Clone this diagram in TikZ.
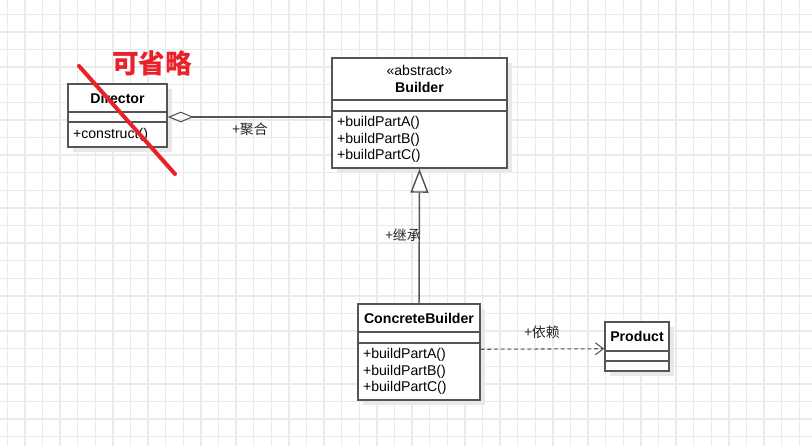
\documentclass[tikz,border=0pt]{standalone}
\usepackage{fontspec}
\setmainfont{Liberation Sans}
\newfontfamily\cjk{Noto Sans CJK SC}
\usepackage{pgf, tikz}
\usepackage{xcolor}
\usetikzlibrary{arrows.meta,shadows}

\definecolor{umlline}{HTML}{555555}
\definecolor{gridgray}{HTML}{EAEAEA}
\definecolor{markred}{HTML}{E8212A}

\begin{document}
\begin{tikzpicture}[
  x = 0.75pt, y = -0.75pt, % one unit per pixel
  >= stealth,
  semithick
]

\tikzstyle{part}=[
  draw = umlline,
  line width = 1.1pt,
  fill = white,
  inner sep = 0pt,
  drop shadow = {shadow xshift=4pt, shadow yshift=-4pt, fill=black!9, opacity=1},
  font = \fontsize{10.6}{12.4}\selectfont
]
\tikzstyle{ops}=[part, align=left, inner xsep=3.75pt]
\tikzstyle{lbl}=[font=\cjk\fontsize{10.4}{12}\selectfont, text=black!85]

\useasboundingbox[fill=white] (0,0) rectangle (812,446);

% background grid
\foreach \gx in {0,...,45}
  \draw[gridgray, line width=1pt] ({7.3+17.6*\gx},0) -- ({7.3+17.6*\gx},446);
\foreach \gy in {0,...,24}
  \draw[gridgray, line width=1pt] (0,{14.3+17.6*\gy}) -- (812,{14.3+17.6*\gy});

% Director
\node[part, minimum width=74.25pt, minimum height=21pt] (dirT) at (117.5,98) {\textbf{Director}};
\node[part, minimum width=74.25pt, minimum height=7.5pt] (dirM) at (117.5,117) {};
\node[ops, text width=66.75pt, minimum height=18.75pt] (dirO) at (117.5,134.5) {+construct()};

% Builder
\node[part, align=center, minimum width=131.25pt, minimum height=31.5pt] (bldT) at (419.5,79) {«abstract»\\\textbf{Builder}};
\node[part, minimum width=131.25pt, minimum height=8.25pt] (bldM) at (419.5,105.5) {};
\node[ops, text width=123.75pt, minimum height=42.75pt] (bldO) at (419.5,139.5) {+buildPartA()\\+buildPartB()\\+buildPartC()};

% ConcreteBuilder
\node[part, minimum width=91.5pt, minimum height=21pt] (cbT) at (419,318) {\textbf{ConcreteBuilder}};
\node[part, minimum width=91.5pt, minimum height=8.25pt] (cbM) at (419,337.5) {};
\node[ops, text width=84pt, minimum height=42.75pt] (cbO) at (419,371.5) {+buildPartA()\\+buildPartB()\\+buildPartC()};

% Product
\node[part, minimum width=48pt, minimum height=21.75pt] (prdT) at (637,336.5) {\textbf{Product}};
\node[part, minimum width=48pt, minimum height=7.5pt] (prdM) at (637,356) {};
\node[part, minimum width=48pt, minimum height=7.5pt] (prdB) at (637,366) {};

% relations
\draw[umlline, line width=0.8pt, {Diamond[open, length=19.5pt, width=8pt]}-] (dirM.east) -- (dirM.east -| bldO.west);
\draw[umlline, line width=1.1pt, -{Triangle[open, length=18pt, width=13.5pt]}] (cbT.north) -- (bldO.south);
\draw[umlline, line width=0.8pt, dash pattern=on 3pt off 2pt, -{Straight Barb[length=6pt, width=9pt]}] ([yshift=-5.25pt]cbO.north east) -- ([yshift=2.25pt]prdT.south west);

\node[lbl] (aggL) at (250,129) {+聚合};
\node[lbl] (inhL) at (403,235) {+继承};
\node[lbl] (depL) at (542,332) {+依赖};

% the red mark
\node[text=markred, font=\cjk\bfseries\fontsize{20}{22}\selectfont] (skipL) at (152,63) {可省略};
\draw[markred, line width=3pt, line cap=round] (79,66) -- (175,174);

\end{tikzpicture}
\end{document}
